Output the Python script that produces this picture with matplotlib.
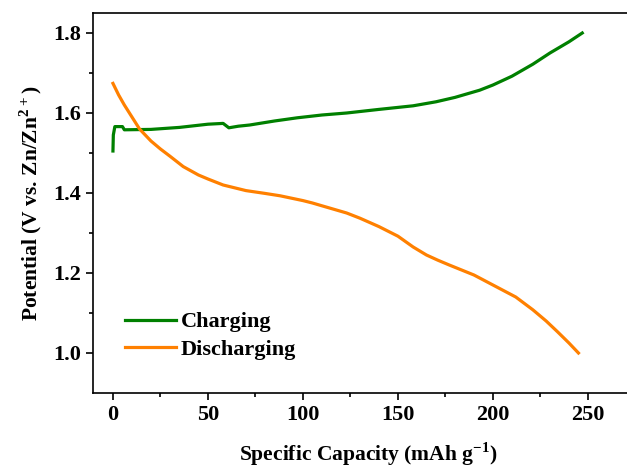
import matplotlib.pyplot as plt

# charge curve: specific capacity (mAh/g) vs potential (V vs Zn/Zn2+)
charge_cap = [0, 0.2, 1, 5, 6, 20, 35, 50, 58, 61, 66, 72, 85, 97, 110,
              123, 140, 158, 170, 180, 193, 200, 210, 221, 230, 240, 247]
charge_v = [1.505, 1.545, 1.566, 1.566, 1.558, 1.559, 1.564, 1.572, 1.574,
            1.563, 1.567, 1.570, 1.580, 1.588, 1.595, 1.600, 1.609, 1.618,
            1.628, 1.639, 1.657, 1.670, 1.692, 1.722, 1.750, 1.778, 1.800]

# discharge curve
discharge_cap = [0, 3, 6, 10, 14, 20, 25, 30, 37, 45, 50, 58, 70, 80, 88,
                 93, 100, 105, 110, 123, 130, 140, 150, 158, 165, 171, 177,
                 190, 200, 212, 221, 228, 234, 240, 245]
discharge_v = [1.674, 1.645, 1.620, 1.590, 1.560, 1.530, 1.510, 1.492,
               1.466, 1.445, 1.435, 1.420, 1.406, 1.399, 1.393, 1.388,
               1.381, 1.375, 1.368, 1.350, 1.337, 1.316, 1.292, 1.265,
               1.245, 1.232, 1.220, 1.195, 1.170, 1.140, 1.108, 1.080,
               1.053, 1.025, 1.000]

plt.rcParams['font.family'] = ['Liberation Serif', 'DejaVu Serif']
plt.rcParams['font.weight'] = 'bold'
plt.rcParams['mathtext.fontset'] = 'custom'
plt.rcParams['mathtext.rm'] = 'Liberation Serif:bold'
plt.rcParams['mathtext.bf'] = 'Liberation Serif:bold'

fig = plt.figure(figsize=(6.27, 4.68), dpi=100)
ax = fig.add_axes([93 / 627, 1 - 393 / 468, 550 / 627, 380 / 468])

ax.plot(charge_cap, charge_v, color='#008000', lw=2.3, label='Charging')
ax.plot(discharge_cap, discharge_v, color='#ff8000', lw=2.3, label='Discharging')

ax.set_xlim(-10.5, -10.5 + 550 / 1.9)
ax.set_ylim(0.9, 1.85)
ax.set_xticks([0, 50, 100, 150, 200, 250])
ax.set_xticks([25, 75, 125, 175, 225], minor=True)
ax.set_yticks([1.0, 1.2, 1.4, 1.6, 1.8])
ax.set_yticks([1.1, 1.3, 1.5, 1.7], minor=True)

for s in ax.spines.values():
    s.set_linewidth(1.2)
ax.tick_params(which='major', direction='out', length=5, width=1.2, labelsize=16)
ax.tick_params(which='minor', direction='out', length=3, width=1.2)
for lab in ax.get_xticklabels() + ax.get_yticklabels():
    lab.set_fontweight('bold')

ax.set_xlabel(r'Specific Capacity (mAh g$^{\mathregular{-1}}$)', fontsize=15.5,
              fontweight='bold', labelpad=11)
ax.set_ylabel(r'Potential (V vs. Zn/Zn$^{\mathregular{2+}}$)', fontsize=15.5,
              fontweight='bold', labelpad=7)

ax.legend(loc='lower left', bbox_to_anchor=(0.022, 0.035), frameon=False,
          prop={'size': 16, 'weight': 'bold'}, handlelength=2.3,
          handletextpad=0.2, labelspacing=0.3)

fig.savefig('out.png', dpi=100)
